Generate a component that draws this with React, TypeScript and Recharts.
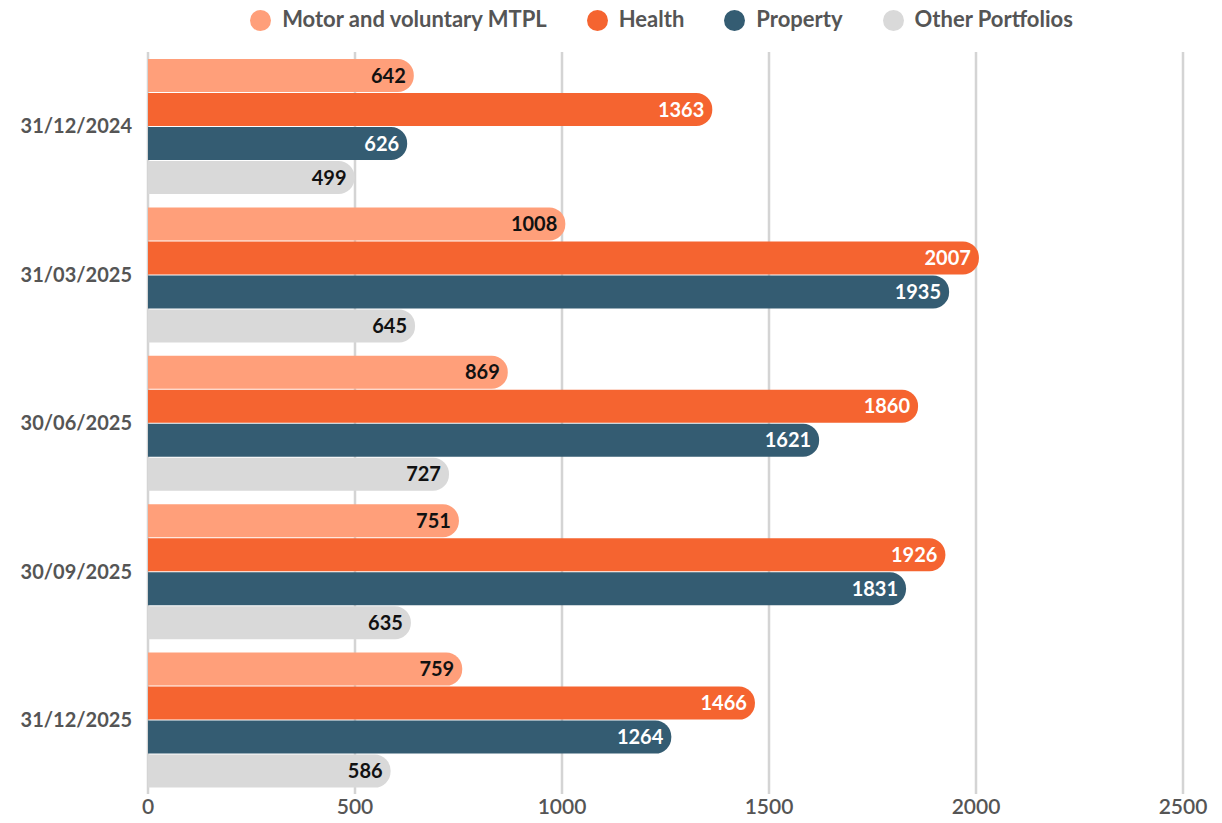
import React from 'react';
import { BarChart, Bar, XAxis, YAxis, CartesianGrid, Legend, LabelList } from 'recharts';

const categories = ['31/12/2024', '31/03/2025', '30/06/2025', '30/09/2025', '31/12/2025'];
const motor = [642, 1008, 869, 751, 759];
const health = [1363, 2007, 1860, 1926, 1466];
const property = [626, 1935, 1621, 1831, 1264];
const other = [499, 645, 727, 635, 586];
const xTicks = [0, 500, 1000, 1500, 2000, 2500];

const series = [
  { key: 'motor', name: 'Motor and voluntary MTPL', color: '#FF9F7A', label: '#111' },
  { key: 'health', name: 'Health', color: '#F56430', label: '#fff' },
  { key: 'property', name: 'Property', color: '#345C72', label: '#fff' },
  { key: 'other', name: 'Other Portfolios', color: '#D9D9D9', label: '#111' },
];

const data = categories.map((c, i) => ({
  cat: c,
  motor: motor[i],
  health: health[i],
  property: property[i],
  other: other[i],
}));

const FONT = 'Lato, "Open Sans", sans-serif';

const LegendContent = () => (
  <div style={{ height: 52, display: 'flex', justifyContent: 'center', alignItems: 'flex-start', paddingTop: 5, paddingLeft: 140, paddingRight: 39, boxSizing: 'border-box', fontFamily: FONT }}>
    {series.map((s) => (
      <div key={s.key} style={{ display: 'flex', alignItems: 'center', margin: '0 20px' }}>
        <span style={{ width: 21, height: 21, borderRadius: 11, background: s.color, display: 'inline-block', marginRight: 11, marginTop: 3 }} />
        <span style={{ fontSize: 22, color: '#555', fontWeight: 700 }}>{s.name}</span>
      </div>
    ))}
  </div>
);

export default function App() {
  return (
    <div style={{ position: 'absolute', left: 0, top: 0 }}>
      <BarChart
        width={1222}
        height={823}
        data={data}
        layout="vertical"
        margin={{ top: 0, right: 39, bottom: 0, left: 0 }}
        barCategoryGap={7}
        barGap={1}
      >
        <Legend verticalAlign="top" align="center" content={<LegendContent />} wrapperStyle={{ top: 0, left: 0, width: 1222 }} />
        <CartesianGrid horizontal={false} stroke="#D4D4D4" strokeWidth={2.5} />
        <XAxis
          type="number"
          domain={[0, 2500]}
          ticks={xTicks}
          axisLine={false}
          tickLine={false}
          tickSize={0}
          tickMargin={5}
          height={29}
          tick={{ fill: '#555', fontSize: 21, fontFamily: FONT, fontWeight: 600 }}
        />
        <YAxis
          type="category"
          dataKey="cat"
          width={148}
          axisLine={false}
          tickLine={false}
          tickSize={0}
          tickMargin={16}
          tick={{ fill: '#555', fontSize: 20, fontFamily: FONT, fontWeight: 700 }}
        />
        {series.map((s) => (
          <Bar key={s.key} dataKey={s.key} name={s.name} fill={s.color} radius={[0, 16, 16, 0]} isAnimationActive={false}>
            <LabelList dataKey={s.key} position="insideRight" offset={8} fill={s.label} style={{ fontSize: 20, fontWeight: 700, fontFamily: FONT }} />
          </Bar>
        ))}
      </BarChart>
    </div>
  );
}
